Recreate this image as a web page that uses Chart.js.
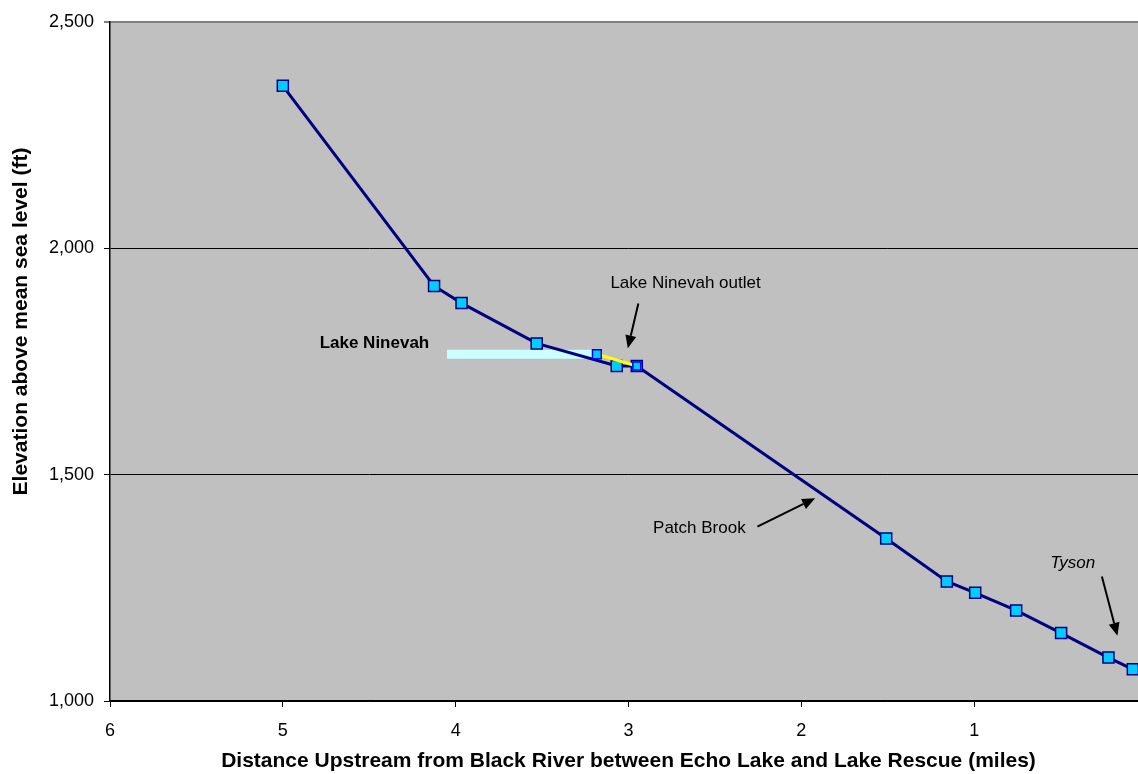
<!DOCTYPE html>
<html lang="en">
<head>
    <meta charset="UTF-8">
    <title>Elevation Profile</title>
    <script src="https://cdn.jsdelivr.net/npm/chart.js"></script>
    <style>
        body {
            margin: 0;
            background-color: #ffffff;
            overflow: hidden;
        }
        .chart-container {
            width: 1160px;
            height: 774px;
        }
    </style>
</head>
<body>
    <div class="chart-container">
        <canvas id="profileChart"></canvas>
    </div>

    <script>
        // miles upstream, elevation in ft
        const distance = [5.0, 4.125, 3.966, 3.531, 3.068, 2.952, 1.509, 1.158, 0.994, 0.757, 0.497, 0.223, 0.082];
        const elevation = [2359, 1917, 1879, 1790, 1740, 1740, 1359, 1264, 1239, 1200, 1150, 1096, 1070];

        const outletDistance = [3.183, 2.952];
        const outletElevation = [1766, 1740];

        const lakeDistance = [4.05, 3.2];
        const lakeElevation = [1766, 1766];

        const xTicks = [0, 1, 2, 3, 4, 5, 6];
        const yTicks = [1000, 1500, 2000, 2500];

        const yTitle = 'Elevation above mean sea level (ft)';
        const xTitle = 'Distance Upstream from Black River between Echo Lake and Lake Rescue (miles)';

        const noteText = ['Lake Ninevah outlet', 'Lake Ninevah', 'Patch Brook', 'Tyson'];
        const noteX = [2.67, 4.47, 2.59, 0.43];
        const noteY = [1923, 1790, 1382, 1304];

        const arrowFromX = [2.943, 2.254, 0.261];
        const arrowFromY = [1878, 1385, 1275];
        const arrowToX = [3.004, 1.920, 0.171];
        const arrowToY = [1779, 1448, 1144];

        const FONT = "'Liberation Sans', Arial, sans-serif";

        function toPoints(xs, ys) {
            return xs.map((x, i) => ({ x: x, y: ys[i] }));
        }

        const plotBackground = {
            id: 'plotBackground',
            beforeDraw(chart) {
                const { ctx, chartArea } = chart;
                ctx.save();
                ctx.fillStyle = '#c0c0c0';
                ctx.fillRect(chartArea.left, chartArea.top, chartArea.right - chartArea.left, chartArea.bottom - chartArea.top);
                ctx.restore();
            }
        };

        // the y title sits a bit above the middle of the axis in the original
        const yAxisTitle = {
            id: 'yAxisTitle',
            afterDraw(chart) {
                const { ctx, chartArea } = chart;
                ctx.save();
                ctx.translate(21, (chartArea.top + chartArea.bottom) / 2 - 40);
                ctx.rotate(-Math.PI / 2);
                ctx.font = 'bold 21px ' + FONT;
                ctx.fillStyle = '#000000';
                ctx.textAlign = 'center';
                ctx.textBaseline = 'middle';
                ctx.fillText(yTitle, 0, 0);
                ctx.restore();
            }
        };

        const noteFonts = ['17px ' + FONT, 'bold 17px ' + FONT, '17px ' + FONT, 'italic 17px ' + FONT];

        const notes = {
            id: 'notes',
            afterDatasetsDraw(chart) {
                const { ctx, scales } = chart;
                ctx.save();
                ctx.fillStyle = '#000000';
                ctx.textAlign = 'center';
                ctx.textBaseline = 'middle';
                noteText.forEach((text, i) => {
                    ctx.font = noteFonts[i];
                    ctx.fillText(text, scales.x.getPixelForValue(noteX[i]), scales.y.getPixelForValue(noteY[i]));
                });

                ctx.strokeStyle = '#000000';
                ctx.lineWidth = 2;
                arrowFromX.forEach((fx, i) => {
                    const x1 = scales.x.getPixelForValue(fx);
                    const y1 = scales.y.getPixelForValue(arrowFromY[i]);
                    const x2 = scales.x.getPixelForValue(arrowToX[i]);
                    const y2 = scales.y.getPixelForValue(arrowToY[i]);
                    const ang = Math.atan2(y2 - y1, x2 - x1);
                    const headLen = 13;
                    const headW = 5.5;
                    const bx = x2 - headLen * Math.cos(ang);
                    const by = y2 - headLen * Math.sin(ang);
                    ctx.beginPath();
                    ctx.moveTo(x1, y1);
                    ctx.lineTo(bx, by);
                    ctx.stroke();
                    ctx.beginPath();
                    ctx.moveTo(x2, y2);
                    ctx.lineTo(bx + headW * Math.sin(ang), by - headW * Math.cos(ang));
                    ctx.lineTo(bx - headW * Math.sin(ang), by + headW * Math.cos(ang));
                    ctx.closePath();
                    ctx.fill();
                });
                ctx.restore();
            }
        };

        new Chart(document.getElementById('profileChart'), {
            type: 'line',
            data: {
                datasets: [
                    {
                        label: 'Lake Ninevah',
                        data: toPoints(lakeDistance, lakeElevation),
                        borderColor: '#ccffff',
                        borderWidth: 9,
                        borderCapStyle: 'butt',
                        pointRadius: 0,
                        order: 3
                    },
                    {
                        label: 'Profile',
                        data: toPoints(distance, elevation),
                        borderColor: '#000080',
                        borderWidth: 3,
                        pointStyle: 'rect',
                        pointRadius: 7.8,
                        pointBackgroundColor: '#00ccff',
                        pointBorderColor: '#000080',
                        pointBorderWidth: 1.5,
                        order: 2
                    },
                    {
                        label: 'Outlet',
                        data: toPoints(outletDistance, outletElevation),
                        borderColor: '#ffff00',
                        borderWidth: 3,
                        pointStyle: 'rect',
                        pointRadius: [6.2, 5.6],
                        pointBackgroundColor: '#00ccff',
                        pointBorderColor: '#0000ff',
                        pointBorderWidth: 1.5,
                        order: 1
                    }
                ]
            },
            options: {
                responsive: true,
                maintainAspectRatio: false,
                animation: false,
                events: [],
                layout: {
                    padding: { top: 22, right: 13, bottom: 0, left: 0 }
                },
                plugins: {
                    legend: { display: false },
                    tooltip: { enabled: false }
                },
                scales: {
                    x: {
                        type: 'linear',
                        reverse: true,
                        min: 0,
                        max: 6,
                        afterBuildTicks: axis => { axis.ticks = xTicks.map(v => ({ value: v })); },
                        afterFit: axis => { axis.height = 73; },
                        grid: {
                            drawOnChartArea: false,
                            drawTicks: true,
                            tickLength: 6,
                            color: '#000000'
                        },
                        border: { color: '#000000', width: 1.5 },
                        ticks: {
                            color: '#000000',
                            padding: 13,
                            maxRotation: 0,
                            font: { family: FONT, size: 18 },
                            callback: v => String(v)
                        },
                        title: {
                            display: true,
                            text: xTitle,
                            color: '#000000',
                            padding: { top: 0, bottom: 0 },
                            font: { family: FONT, size: 21, weight: 'bold' }
                        }
                    },
                    y: {
                        type: 'linear',
                        min: 1000,
                        max: 2500,
                        afterBuildTicks: axis => { axis.ticks = yTicks.map(v => ({ value: v })); },
                        afterFit: axis => { axis.width = 110; },
                        grid: {
                            color: c => c.tick && c.tick.value === 2500 ? '#808080' : '#000000',
                            lineWidth: c => c.tick && c.tick.value === 2500 ? 2 : 1,
                            tickColor: '#000000',
                            tickWidth: 1,
                            tickLength: 6
                        },
                        border: { color: '#000000', width: 1.5 },
                        ticks: {
                            color: '#000000',
                            padding: 10,
                            font: { family: FONT, size: 18 },
                            callback: v => v.toLocaleString('en-US')
                        }
                    }
                }
            },
            plugins: [plotBackground, notes, yAxisTitle]
        });
    </script>
</body>
</html>
